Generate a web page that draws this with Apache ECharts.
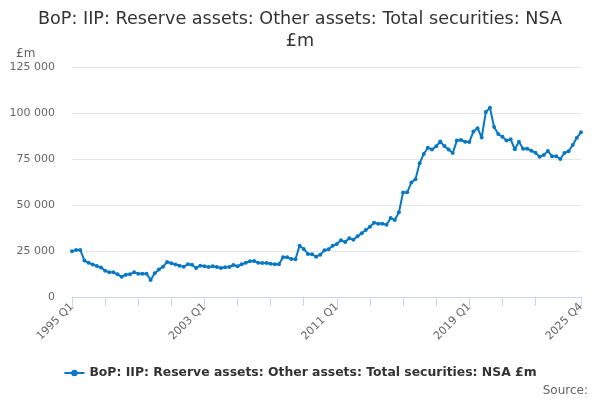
<!DOCTYPE html>
<html>
<head>
<meta charset="utf-8">
<script src="https://cdn.jsdelivr.net/npm/echarts@6/dist/echarts.min.js"></script>
<style>
  html, body { margin: 0; padding: 0; background: #fff; }
  #chart { width: 600px; height: 400px; }
</style>
</head>
<body>
<div id="chart"></div>
<script>
const TITLE_LINE_1 = "BoP: IIP: Reserve assets: Other assets: Total securities: NSA";
const TITLE_LINE_2 = "£m";
const SERIES_NAME = "BoP: IIP: Reserve assets: Other assets: Total securities: NSA £m";

const firstYear = 1995;
const lastYear = 2025;
const quarters = ["Q1", "Q2", "Q3", "Q4"];

// £m, one value per quarter, 1995 Q1 .. 2025 Q4
const values1995to2004 = [
  24800, 25600, 25600, 19800, 18600, 17700, 16800, 16100,
  14300, 13400, 13400, 12300, 11000, 12100, 12300, 13400,
  12700, 12700, 12700, 9200, 12900, 15000, 16500, 19000,
  18300, 17700, 17000, 16500, 17800, 17500, 15800, 17000,
  16700, 16300, 16700, 16300, 15800, 16200, 16300, 17400
];
const values2005to2014 = [
  16700, 17800, 18600, 19400, 19500, 18600, 18500, 18500,
  18100, 17800, 17800, 21600, 21600, 20600, 20500, 27900,
  26100, 23400, 23200, 21900, 23000, 25400, 25900, 27900,
  28800, 30800, 29900, 31900, 31100, 33000, 34600, 36400,
  38200, 40400, 39800, 39800, 39300, 42900, 41800, 46000
];
const values2015to2025 = [
  56800, 56900, 62200, 64000, 72700, 77700, 81100, 80100,
  81900, 84500, 82000, 80200, 78200, 85000, 85300, 84400,
  84200, 89900, 91700, 86700, 100600, 102800, 92400, 88600,
  87100, 85000, 85700, 80300, 84400, 80600, 80600, 79500,
  78400, 76200, 77200, 79300, 76500, 76500, 75000, 78300,
  79200, 82600, 86600, 89500
];

const categories = [];
for (let year = firstYear; year <= lastYear; year += 1) {
  quarters.forEach((q) => categories.push(year + " " + q));
}
const seriesValues = values1995to2004.concat(values2005to2014, values2015to2025);

const lastIndex = categories.length - 1;
const labelEvery = 32;
const tickEvery = 8;

function withSpaces(value) {
  return String(value).replace(/\B(?=(\d{3})+(?!\d))/g, " ");
}

const titleStyle = {
  fontFamily: "DejaVu Sans",
  fontSize: 17.6,
  fontWeight: "normal",
  color: "#333333"
};

const chart = echarts.init(document.getElementById("chart"));

chart.setOption({
  animation: false,
  title: [
    { text: TITLE_LINE_1, left: "center", top: 5, textStyle: titleStyle },
    { text: TITLE_LINE_2, left: "center", top: 27, textStyle: titleStyle },
    {
      text: "£m",
      left: 11,
      top: 43,
      textStyle: { fontFamily: "DejaVu Sans", fontSize: 12, fontWeight: "normal", color: "#666666" }
    },
    {
      text: "Source:",
      right: 7,
      bottom: -2,
      textStyle: { fontFamily: "DejaVu Sans", fontSize: 12, fontWeight: "normal", color: "#666666" }
    }
  ],
  legend: {
    bottom: 16,
    left: "center",
    itemWidth: 20,
    itemHeight: 8,
    itemGap: 6,
    textStyle: { fontFamily: "DejaVu Sans", fontSize: 12.4, fontWeight: "bold", color: "#333333" },
    data: [SERIES_NAME]
  },
  grid: { left: 72, right: 19, top: 67, bottom: 103 },
  xAxis: {
    type: "category",
    data: categories,
    boundaryGap: false,
    axisLine: { lineStyle: { color: "#ccd6eb" } },
    axisTick: {
      length: 9,
      lineStyle: { color: "#ccd6eb" },
      interval: (index) => (index % tickEvery === 0 && index <= lastIndex - 8) || index === lastIndex
    },
    axisLabel: {
      rotate: 45,
      margin: 8,
      fontFamily: "DejaVu Sans",
      fontSize: 11,
      color: "#666666",
      interval: (index) => index % labelEvery === 0 || index === lastIndex
    }
  },
  yAxis: {
    type: "value",
    min: 0,
    max: 125000,
    interval: 25000,
    axisLine: { show: false },
    axisTick: { show: false },
    splitLine: { lineStyle: { color: "#e6e6e6" } },
    axisLabel: {
      margin: 17,
      fontFamily: "DejaVu Sans",
      fontSize: 11,
      color: "#666666",
      formatter: withSpaces
    }
  },
  series: [
    {
      name: SERIES_NAME,
      type: "line",
      data: seriesValues,
      color: "#0a78c2",
      lineStyle: { width: 2 },
      symbol: "circle",
      symbolSize: 4,
      showAllSymbol: true
    }
  ]
});
</script>
</body>
</html>
